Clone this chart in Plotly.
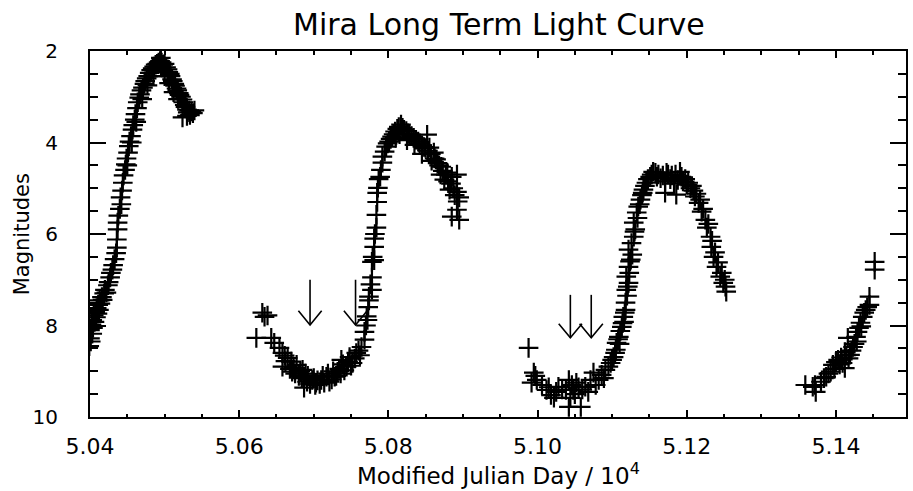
import plotly.graph_objects as go

# ---------------- data (MJD / 1e4, magnitude) ----------------
mjd_c1 = [5.0399, 5.0400, 5.0400, 5.0401, 5.0402, 5.0403, 5.0403, 5.0404, 5.0405, 5.0406,
          5.0407, 5.0408, 5.0409, 5.0410, 5.0411, 5.0412, 5.0413, 5.0414, 5.0416, 5.0417,
          5.0419, 5.0420, 5.0422, 5.0424, 5.0425, 5.0427, 5.0428, 5.0430, 5.0431, 5.0433,
          5.0435, 5.0436, 5.0436, 5.0437, 5.0437, 5.0438, 5.0440, 5.0441, 5.0442, 5.0443,
          5.0444, 5.0445, 5.0447, 5.0448, 5.0449, 5.0450, 5.0451, 5.0452, 5.0453, 5.0455,
          5.0456, 5.0457, 5.0458, 5.0460, 5.0461, 5.0462, 5.0463, 5.0464, 5.0466, 5.0467,
          5.0469, 5.0470, 5.0471, 5.0473, 5.0474, 5.0476, 5.0477, 5.0478, 5.0480, 5.0482,
          5.0484, 5.0485, 5.0486, 5.0488, 5.0490, 5.0492, 5.0494, 5.0495, 5.0496, 5.0498,
          5.0500, 5.0500, 5.0502, 5.0504, 5.0505, 5.0506, 5.0507, 5.0508, 5.0510, 5.0511,
          5.0512, 5.0513, 5.0514, 5.0516, 5.0517, 5.0518, 5.0519, 5.0520, 5.0522, 5.0524,
          5.0524, 5.0525, 5.0527, 5.0528, 5.0530, 5.0530, 5.0531, 5.0533, 5.0534, 5.0536,
          5.0538, 5.0540]
mag_c1 = [8.45, 8.28, 8.10, 8.35, 7.98, 8.18, 7.88, 8.05, 7.78, 7.92,
          7.70, 7.82, 7.62, 7.74, 7.55, 7.66, 7.45, 7.52, 7.38, 7.44,
          7.30, 7.22, 7.28, 7.12, 7.05, 6.95, 6.85, 6.78, 6.68, 6.55,
          6.42, 6.30, 6.12, 5.90, 5.75, 5.60, 5.45, 5.20, 5.35, 5.05,
          4.88, 4.72, 4.60, 4.48, 4.35, 4.50, 4.22, 4.08, 3.98, 3.86,
          4.00, 3.72, 3.62, 3.50, 3.38, 3.55, 3.25, 3.12, 3.02, 2.95,
          2.86, 3.05, 2.80, 2.72, 2.66, 2.60, 2.75, 2.55, 2.48, 2.42,
          2.38, 2.55, 2.34, 2.30, 2.28, 2.25, 2.22, 2.15, 2.25, 2.30,
          2.28, 2.55, 2.36, 2.40, 2.46, 2.70, 2.50, 2.55, 2.62, 2.66,
          2.90, 2.72, 2.76, 2.82, 2.86, 3.05, 2.92, 2.96, 3.00, 3.06,
          3.45, 3.12, 3.18, 3.22, 3.28, 3.42, 3.34, 3.30, 3.40, 3.32,
          3.36, 3.30]

mjd_c2 = [5.0623, 5.0631, 5.0634, 5.0638, 5.0643, 5.0647, 5.0654, 5.0658, 5.0658, 5.0661,
          5.0662, 5.0665, 5.0668, 5.0670, 5.0671, 5.0673, 5.0675, 5.0677, 5.0680, 5.0682,
          5.0684, 5.0685, 5.0687, 5.0687, 5.0689, 5.0691, 5.0692, 5.0695, 5.0698, 5.0700,
          5.0702, 5.0703, 5.0705, 5.0708, 5.0710, 5.0712, 5.0714, 5.0717, 5.0719, 5.0721,
          5.0724, 5.0726, 5.0728, 5.0730, 5.0732, 5.0734, 5.0736, 5.0737, 5.0739, 5.0741,
          5.0744, 5.0746, 5.0748, 5.0750, 5.0752, 5.0755, 5.0757, 5.0760, 5.0762, 5.0764,
          5.0768, 5.0768, 5.0770, 5.0771, 5.0772, 5.0773, 5.0774, 5.0774, 5.0776, 5.0778,
          5.0778, 5.0778, 5.0779, 5.0781, 5.0781, 5.0781, 5.0782, 5.0784, 5.0784, 5.0785,
          5.0785, 5.0786, 5.0787, 5.0789, 5.0790, 5.0792, 5.0792, 5.0795, 5.0797, 5.0799,
          5.0801, 5.0803, 5.0805, 5.0807, 5.0809, 5.0810, 5.0812, 5.0814, 5.0815, 5.0817,
          5.0819, 5.0821, 5.0824, 5.0825, 5.0826, 5.0828, 5.0831, 5.0834, 5.0835, 5.0837,
          5.0840, 5.0842, 5.0845, 5.0845, 5.0848, 5.0850, 5.0852, 5.0853, 5.0855, 5.0857,
          5.0858, 5.0861, 5.0862, 5.0864, 5.0866, 5.0868, 5.0870, 5.0871, 5.0873, 5.0875,
          5.0877, 5.0879, 5.0880, 5.0882, 5.0884, 5.0885, 5.0885, 5.0887, 5.0889, 5.0892,
          5.0892, 5.0892, 5.0893, 5.0895, 5.0895]
mag_c2 = [8.27, 7.72, 7.81, 7.78, 8.27, 8.38, 8.49, 8.60, 8.90, 8.66,
          8.78, 8.71, 8.95, 8.79, 9.01, 8.92, 9.05, 8.86, 9.10, 9.00,
          9.15, 8.97, 9.12, 9.36, 9.05, 9.23, 9.10, 9.28, 9.19, 9.15,
          9.30, 9.25, 9.20, 9.28, 9.19, 9.10, 9.25, 9.12, 9.05, 9.23,
          9.18, 9.00, 9.12, 9.10, 9.01, 8.95, 9.05, 8.75, 8.85, 8.98,
          8.90, 8.80, 8.69, 8.88, 8.82, 8.72, 8.60, 8.55, 8.65, 8.47,
          8.31, 8.14, 8.00, 7.80, 7.88, 7.60, 7.45, 7.37, 7.10, 7.22,
          6.95, 6.61, 6.50, 6.57, 6.28, 6.10, 6.00, 5.86, 5.58, 5.30,
          5.10, 4.99, 4.80, 4.75, 4.60, 4.44, 4.31, 4.20, 4.09, 4.02,
          3.98, 3.92, 3.87, 3.82, 3.76, 3.90, 3.70, 3.66, 3.82, 3.61,
          3.68, 3.72, 3.75, 3.95, 3.80, 3.83, 3.86, 3.90, 4.05, 3.94,
          3.98, 4.02, 4.06, 4.25, 4.10, 4.12, 3.83, 4.18, 4.11, 4.25,
          4.40, 4.22, 4.35, 4.37, 4.45, 4.50, 4.70, 4.53, 4.62, 4.81,
          4.70, 4.66, 4.85, 5.03, 4.90, 4.75, 5.62, 5.00, 5.15, 4.70,
          5.08, 5.47, 5.29, 5.20, 5.69]

mjd_c3 = [5.0988, 5.0992, 5.0995, 5.0997, 5.0999, 5.1006, 5.1012, 5.1015, 5.1018, 5.1022,
          5.1025, 5.1028, 5.1033, 5.1038, 5.1042, 5.1042, 5.1044, 5.1046, 5.1048, 5.1050,
          5.1052, 5.1055, 5.1058, 5.1060, 5.1064, 5.1068, 5.1071, 5.1075, 5.1078, 5.1082,
          5.1086, 5.1089, 5.1091, 5.1095, 5.1098, 5.1100, 5.1102, 5.1104, 5.1105, 5.1106,
          5.1108, 5.1109, 5.1110, 5.1111, 5.1113, 5.1114, 5.1115, 5.1116, 5.1117, 5.1118,
          5.1118, 5.1119, 5.1119, 5.1120, 5.1121, 5.1122, 5.1122, 5.1122, 5.1123, 5.1124,
          5.1125, 5.1126, 5.1127, 5.1129, 5.1129, 5.1130, 5.1131, 5.1133, 5.1134, 5.1135,
          5.1137, 5.1138, 5.1140, 5.1141, 5.1142, 5.1144, 5.1146, 5.1148, 5.1151, 5.1153,
          5.1155, 5.1158, 5.1160, 5.1162, 5.1165, 5.1168, 5.1171, 5.1171, 5.1173, 5.1175,
          5.1178, 5.1180, 5.1183, 5.1185, 5.1186, 5.1188, 5.1191, 5.1193, 5.1195, 5.1198,
          5.1200, 5.1202, 5.1205, 5.1207, 5.1209, 5.1211, 5.1213, 5.1216, 5.1218, 5.1220,
          5.1222, 5.1225, 5.1227, 5.1229, 5.1232, 5.1233, 5.1234, 5.1236, 5.1238, 5.1240,
          5.1242, 5.1245, 5.1247, 5.1249, 5.1251, 5.1252, 5.1253]
mag_c3 = [8.49, 9.25, 9.03, 9.10, 9.19, 9.30, 9.41, 9.35, 9.52, 9.58,
          9.45, 9.34, 9.40, 9.41, 9.19, 9.78, 9.58, 9.30, 9.41, 9.50,
          9.25, 9.35, 9.78, 9.40, 9.34, 9.45, 9.19, 9.03, 9.30, 9.19,
          9.08, 9.15, 8.97, 8.90, 8.82, 8.75, 8.69, 8.60, 8.53, 8.38,
          8.30, 8.25, 8.40, 8.12, 8.03, 7.95, 7.81, 7.92, 7.72, 7.66,
          7.50, 7.22, 6.93, 7.35, 7.15, 7.07, 6.72, 6.34, 6.85, 6.60,
          6.56, 6.20, 6.45, 6.06, 5.75, 5.95, 5.90, 5.53, 5.65, 5.40,
          5.35, 5.25, 5.15, 5.10, 5.03, 4.95, 4.88, 4.80, 4.75, 4.70,
          4.64, 4.66, 4.75, 4.70, 4.78, 4.72, 4.85, 5.10, 4.66, 4.70,
          4.80, 4.72, 4.90, 4.70, 5.14, 4.82, 4.64, 4.75, 4.85, 4.80,
          4.92, 4.88, 5.00, 4.95, 5.05, 5.18, 5.12, 5.32, 5.25, 5.51,
          5.45, 5.69, 5.86, 5.78, 6.06, 6.28, 6.15, 6.50, 6.40, 6.72,
          6.62, 6.93, 6.85, 7.07, 7.00, 7.15, 7.26]

mjd_c4 = [5.1359, 5.1369, 5.1372, 5.1373, 5.1380, 5.1384, 5.1387, 5.1390, 5.1393, 5.1396,
          5.1398, 5.1400, 5.1403, 5.1405, 5.1407, 5.1409, 5.1412, 5.1412, 5.1414, 5.1416,
          5.1417, 5.1419, 5.1421, 5.1423, 5.1425, 5.1427, 5.1428, 5.1429, 5.1431, 5.1433,
          5.1434, 5.1436, 5.1438, 5.1440, 5.1442, 5.1445, 5.1445, 5.1452, 5.1452]
mag_c4 = [9.30, 9.34, 9.30, 9.45, 9.23, 9.15, 9.12, 9.05, 9.01, 8.86,
          8.95, 8.80, 8.75, 8.85, 8.70, 8.82, 8.93, 8.58, 8.65, 8.27,
          8.72, 8.64, 8.55, 8.47, 8.40, 8.25, 8.35, 8.14, 8.05, 7.94,
          8.02, 7.81, 7.72, 7.66, 7.60, 7.55, 7.37, 6.61, 6.78]

# arrows marking epochs (x position, tail magnitude, tip magnitude)
arrow_mjd = [5.0695, 5.0756, 5.1044, 5.1072]
arrow_tail = [7.00, 7.00, 7.33, 7.33]
arrow_tip = [7.99, 7.99, 8.27, 8.27]

x_tickvals = [5.04, 5.06, 5.08, 5.10, 5.12, 5.14]
x_ticktext = ["5.04", "5.06", "5.08", "5.10", "5.12", "5.14"]
y_tickvals = [2, 4, 6, 8, 10]

# ---------------- figure ----------------
FONT = "DejaVu Sans"
head_dx = 0.00156   # half width of arrow head (data units)
head_dy = 0.31      # height of arrow head (magnitudes)

fig = go.Figure()

all_x = mjd_c1 + mjd_c2 + mjd_c3 + mjd_c4
all_y = mag_c1 + mag_c2 + mag_c3 + mag_c4
fig.add_trace(go.Scatter(
    x=all_x, y=all_y, mode="markers",
    marker=dict(symbol="cross-thin", size=14, color="black",
                line=dict(color="black", width=2.2)),
    showlegend=False, hoverinfo="skip"))

ax_x, ax_y = [], []
for xm, yt, yp in zip(arrow_mjd, arrow_tail, arrow_tip):
    ax_x += [xm, xm, None, xm - head_dx, xm, xm + head_dx, None]
    ax_y += [yt, yp, None, yp - head_dy, yp, yp - head_dy, None]
fig.add_trace(go.Scatter(x=ax_x, y=ax_y, mode="lines",
                         line=dict(color="black", width=1.6),
                         showlegend=False, hoverinfo="skip"))

axis_common = dict(showline=True, linecolor="black", linewidth=2, mirror="allticks",
                   ticks="inside", tickcolor="black", tickwidth=2,
                   showgrid=False, zeroline=False)

fig.update_layout(
    width=913, height=491,
    margin=dict(l=90, r=5, t=51, b=74),
    paper_bgcolor="white", plot_bgcolor="white",
    title=dict(text="Mira Long Term Light Curve", x=0.5465, xanchor="center",
               y=0.95, yanchor="middle",
               font=dict(family=FONT, size=30, color="black")),
    xaxis=dict(range=[5.04, 5.1494], tickvals=x_tickvals, ticktext=x_ticktext,
               ticklen=7, ticklabelstandoff=9,
               tickfont=dict(family=FONT, size=22, color="black"),
               minor=dict(dtick=0.005, tick0=5.04, ticklen=3.5, ticks="inside",
                          tickcolor="black", tickwidth=2),
               **axis_common),
    yaxis=dict(range=[10, 2], tickvals=y_tickvals, ticklen=16, ticklabelstandoff=26,
               tickfont=dict(family=FONT, size=20, color="black"),
               minor=dict(dtick=0.5, tick0=2, ticklen=8, ticks="inside",
                          tickcolor="black", tickwidth=2),
               **axis_common),
    annotations=[
        dict(text="Modified Julian Day / 10<sup>4</sup>", xref="paper", yref="paper",
             x=0.5, y=-0.108, xanchor="center", yanchor="top", showarrow=False,
             font=dict(family=FONT, size=23, color="black")),
        dict(text="Magnitudes", xref="paper", yref="paper",
             x=-0.083, y=0.5, xanchor="center", yanchor="middle", textangle=-90,
             showarrow=False, font=dict(family=FONT, size=21, color="black")),
    ],
)

fig.write_html("out.html")
